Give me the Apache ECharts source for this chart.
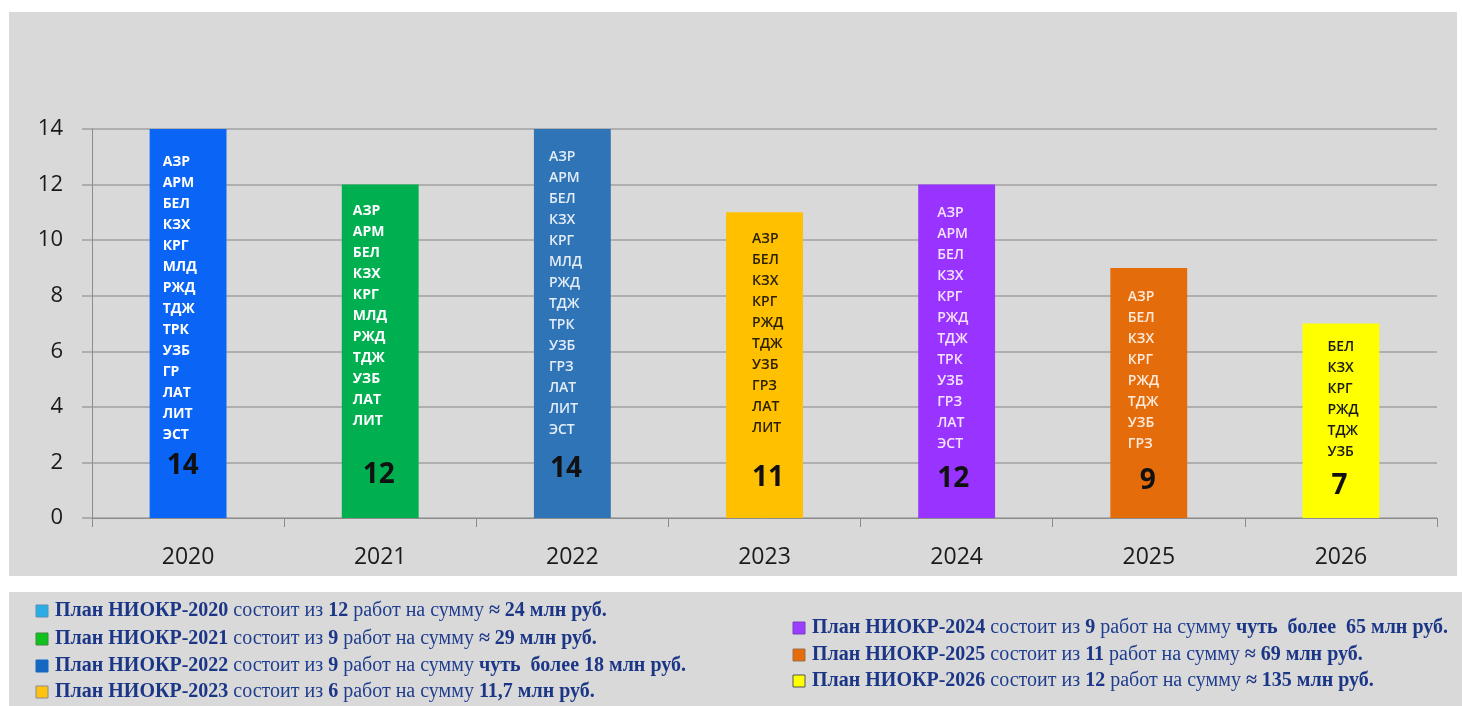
<!DOCTYPE html>
<html>
<head>
<meta charset="utf-8">
<title>Планы НИОКР 2020–2026</title>
<script src="https://cdn.jsdelivr.net/npm/echarts@6/dist/echarts.min.js"></script>
<style>
  html, body { margin: 0; padding: 0; background: #ffffff; }
  #chart { width: 1462px; height: 706px; }
</style>
</head>
<body>
<div id="chart"></div>
<script>
// Годы и число работ по каждому плану
const years = ['2020', '2021', '2022', '2023', '2024', '2025', '2026'];
const projectCounts = [14, 12, 14, 11, 12, 9, 7];

// Участники по годам
const members2020 = ['АЗР', 'АРМ', 'БЕЛ', 'КЗХ', 'КРГ', 'МЛД', 'РЖД', 'ТДЖ', 'ТРК', 'УЗБ', 'ГР', 'ЛАТ', 'ЛИТ', 'ЭСТ'];
const members2021 = ['АЗР', 'АРМ', 'БЕЛ', 'КЗХ', 'КРГ', 'МЛД', 'РЖД', 'ТДЖ', 'УЗБ', 'ЛАТ', 'ЛИТ'];
const members2022 = ['АЗР', 'АРМ', 'БЕЛ', 'КЗХ', 'КРГ', 'МЛД', 'РЖД', 'ТДЖ', 'ТРК', 'УЗБ', 'ГРЗ', 'ЛАТ', 'ЛИТ', 'ЭСТ'];
const members2023 = ['АЗР', 'БЕЛ', 'КЗХ', 'КРГ', 'РЖД', 'ТДЖ', 'УЗБ', 'ГРЗ', 'ЛАТ', 'ЛИТ'];
const members2024 = ['АЗР', 'АРМ', 'БЕЛ', 'КЗХ', 'КРГ', 'РЖД', 'ТДЖ', 'ТРК', 'УЗБ', 'ГРЗ', 'ЛАТ', 'ЭСТ'];
const members2025 = ['АЗР', 'БЕЛ', 'КЗХ', 'КРГ', 'РЖД', 'ТДЖ', 'УЗБ', 'ГРЗ'];
const members2026 = ['БЕЛ', 'КЗХ', 'КРГ', 'РЖД', 'ТДЖ', 'УЗБ'];
const members = [members2020, members2021, members2022, members2023, members2024, members2025, members2026];

// Подписи под диаграммой: число работ и сумма плана
const planWorks = [12, 9, 9, 6, 9, 11, 12];
const planSums = ['≈ 24', '≈ 29', 'чуть  более 18', '11,7', 'чуть  более  65', '≈ 69', '≈ 135'];

// Оформление столбцов и надписей внутри них
const barLook = [
  { color: '#0A64F6', text: '#ffffff', weight: 'bold', dx: 13, dy: 23, numGap: 41, numPad: 4 },
  { color: '#00AF50', text: '#ffffff', weight: 'bold', dx: 11, dy: 15.5, numGap: 87, numPad: 10 },
  { color: '#2E74B6', text: '#e3ecf7', weight: 600, dx: 15, dy: 18, numGap: 56, numPad: 1 },
  { color: '#FFC000', text: '#2b2100', weight: 600, dx: 26, dy: 16.5, numGap: 78, numPad: 0 },
  { color: '#9933FF', text: '#f6e2ff', weight: 600, dx: 19, dy: 17.5, numGap: 49, numPad: 0 },
  { color: '#E46C0A', text: '#ffeadb', weight: 600, dx: 17.5, dy: 18.3, numGap: 54, numPad: 12 },
  { color: '#FFFF00', text: '#1a1a1a', weight: 600, dx: 25, dy: 12.7, numGap: 48, numPad: 4 }
];

// Цвета маркеров в подписях
const markerLook = [
  { fill: '#2AADE6', stroke: '#5a8fb0' },
  { fill: '#10C21E', stroke: '#3e8a3e' },
  { fill: '#1567C2', stroke: '#1567C2' },
  { fill: '#FFC20E', stroke: '#8c8c8c' },
  { fill: '#9B3DFF', stroke: '#7a40c0' },
  { fill: '#E46C0A', stroke: '#a0704a' },
  { fill: '#FFFF00', stroke: '#555555' }
];

const legendColor = '#1f3d8f';
const legendFont = 'Liberation Serif';
const legendSize = 20;

const barData = projectCounts.map((v, i) => {
  const s = barLook[i];
  return {
    value: v,
    itemStyle: { color: s.color },
    label: {
      show: true,
      position: [s.dx, s.dy],
      formatter: () => members[i].map(m => '{code|' + m + '}').join('\n') + '\n{num|' + v + '}',
      rich: {
        code: {
          fontFamily: 'Open Sans', fontSize: 14, fontWeight: s.weight,
          color: s.text, lineHeight: 21
        },
        num: {
          fontFamily: 'Open Sans', fontSize: 28, fontWeight: 'bold',
          color: '#111111', lineHeight: s.numGap, padding: [0, 0, 0, s.numPad]
        }
      }
    }
  };
});

// Строки подписей: левая колонка — 2020–2023, правая — 2024–2026
const legendSlots = [
  { x: 55, y: 611 }, { x: 55, y: 639 }, { x: 55, y: 666 }, { x: 55, y: 692 },
  { x: 812, y: 628 }, { x: 812, y: 655 }, { x: 812, y: 681 }
];

const legendGraphics = [];
years.forEach((yr, i) => {
  const slot = legendSlots[i];
  const mk = markerLook[i];
  legendGraphics.push({
    type: 'rect', silent: true, z: 5,
    shape: { x: slot.x - 19, y: slot.y - 6, width: 12, height: 12 },
    style: { fill: mk.fill, stroke: mk.stroke, lineWidth: 1 }
  });
  legendGraphics.push({
    type: 'text', silent: true, z: 5,
    style: {
      x: slot.x, y: slot.y,
      text: '{b|План НИОКР-' + yr + '}{r| состоит из }{b|' + planWorks[i] + '}{r| работ на сумму }{b|' + planSums[i] + ' млн руб.}',
      verticalAlign: 'middle',
      fill: legendColor,
      rich: {
        b: { fontFamily: legendFont, fontSize: legendSize, fontWeight: 'bold', fill: '#1b3686' },
        r: { fontFamily: legendFont, fontSize: legendSize, fontWeight: 'normal', fill: legendColor }
      }
    }
  });
});

const axisGray = '#8c8c8c';

const option = {
  backgroundColor: '#ffffff',
  animation: false,
  grid: { left: 92, right: 25, top: 129, bottom: 188 },
  xAxis: {
    type: 'category',
    data: years,
    axisLine: { lineStyle: { color: axisGray, width: 1 } },
    axisTick: { show: true, length: 9, lineStyle: { color: axisGray } },
    axisLabel: { fontFamily: 'Open Sans', fontSize: 23, color: '#1a1a1a', margin: 28 }
  },
  yAxis: {
    type: 'value',
    min: 0, max: 14, interval: 2,
    axisLine: { show: true, lineStyle: { color: axisGray, width: 1 } },
    axisTick: { show: true, length: 10, lineStyle: { color: '#a0a0a0', width: 1.5 } },
    splitLine: { lineStyle: { color: '#a0a0a0', width: 1.5 } },
    axisLabel: { fontFamily: 'Open Sans', fontSize: 22, color: '#1a1a1a', margin: 29 }
  },
  series: [{
    type: 'bar',
    barWidth: '40%',
    data: barData
  }],
  graphic: [
    {
      type: 'rect', silent: true, z: -10,
      shape: { x: 9, y: 12, width: 1448, height: 564 },
      style: { fill: '#d9d9d9' }
    },
    {
      type: 'rect', silent: true, z: -10,
      shape: { x: 9, y: 592, width: 1453, height: 114 },
      style: { fill: '#d9d9d9' }
    }
  ].concat(legendGraphics)
};

const chart = echarts.init(document.getElementById('chart'), null, { renderer: 'canvas' });
chart.setOption(option);
</script>
</body>
</html>
